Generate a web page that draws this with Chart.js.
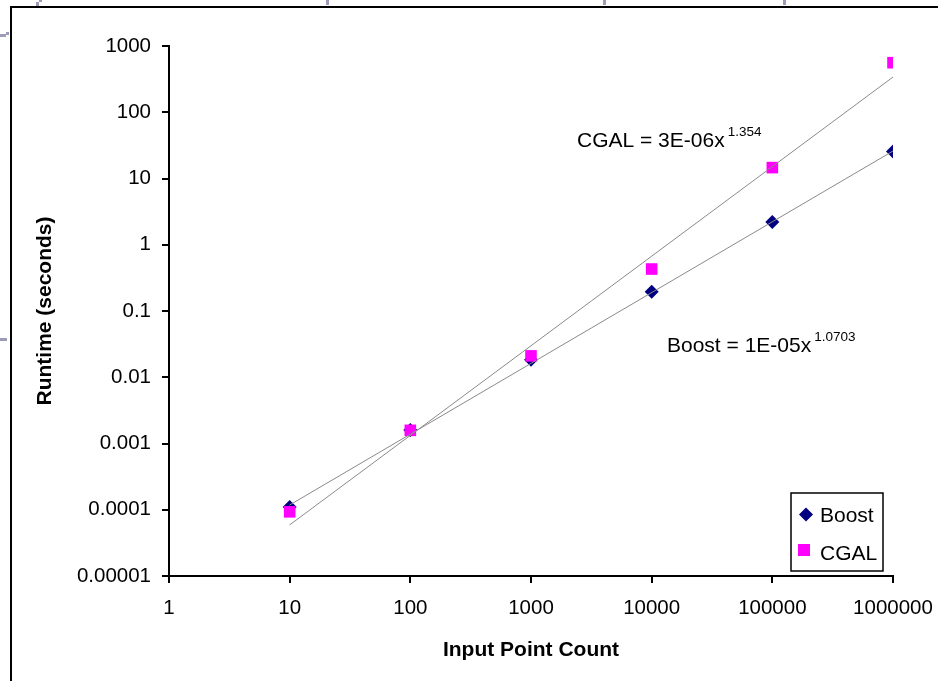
<!DOCTYPE html>
<html>
<head>
<meta charset="utf-8">
<title>Runtime vs Input Point Count</title>
<script src="https://cdn.jsdelivr.net/npm/chart.js@4.4.1/dist/chart.umd.min.js"></script>
<style>
  html, body { margin: 0; padding: 0; background: #fff; }
  #wrap { position: relative; width: 938px; height: 681px; overflow: hidden; }
  #frame { position: absolute; left: 10px; top: 6px; right: -10px; bottom: -10px;
           border-top: 2px solid #000; border-left: 2px solid #000; }
  .mark { position: absolute; background: #9c9cb8; }
  canvas { position: absolute; left: 0; top: 0; }
</style>
</head>
<body>
<div id="wrap">
  <div id="frame"></div>
  <div class="mark" style="left:36px;top:2px;width:3px;height:4px"></div>
  <div class="mark" style="left:39px;top:0px;width:3px;height:2px"></div>
  <div class="mark" style="left:326px;top:0px;width:3px;height:5px"></div>
  <div class="mark" style="left:603px;top:0px;width:3px;height:5px"></div>
  <div class="mark" style="left:783px;top:0px;width:3px;height:5px"></div>
  <div class="mark" style="left:0px;top:34px;width:6px;height:3px"></div>
  <div class="mark" style="left:6px;top:32px;width:3px;height:3px"></div>
  <div class="mark" style="left:0px;top:338px;width:7px;height:3px"></div>
  <canvas id="runtimeChart" width="938" height="681"></canvas>
</div>
<script>
// input sizes and measured runtimes (seconds)
const pointCounts = [10, 100, 1000, 10000, 100000, 1000000];
const boostTimes = [0.00011, 0.0016, 0.0184, 0.195, 2.2, 25.5];
const cgalTimes = [0.000093, 0.00158, 0.021, 0.43, 14.6, 560];

// power trendline ends (x = 10 and x = 1000000)
const trendX = [10, 1000000];
const boostTrend = [0.000118, 26];
const cgalTrend = [0.000059, 340];

const xTickValues = [1, 10, 100, 1000, 10000, 100000, 1000000];
const xTickLabels = ['1', '10', '100', '1000', '10000', '100000', '1000000'];
const yTickValues = [0.00001, 0.0001, 0.001, 0.01, 0.1, 1, 10, 100, 1000];
const yTickLabels = ['0.00001', '0.0001', '0.001', '0.01', '0.1', '1', '10', '100', '1000'];

const boostColor = '#000080';
const cgalColor = '#ff00ff';
const trendColor = '#8a8a8a';
const fontFamily = '"Liberation Sans", Arial, sans-serif';

function toPoints(xs, ys) {
  return xs.map((x, i) => ({ x: x, y: ys[i] }));
}

// equation labels and the legend box
const overlayPlugin = {
  id: 'overlay',
  afterDraw(chart) {
    const ctx = chart.ctx;
    ctx.save();
    ctx.fillStyle = '#000';
    ctx.textBaseline = 'alphabetic';
    ctx.textAlign = 'left';

    function equation(main, sup, x, y) {
      ctx.font = '21px ' + fontFamily;
      ctx.fillText(main, x, y);
      const w = ctx.measureText(main).width;
      ctx.font = '13.5px ' + fontFamily;
      ctx.fillText(sup, x + w + 3, y - 11);
    }
    equation('CGAL = 3E-06x', '1.354', 577, 147);
    equation('Boost = 1E-05x', '1.0703', 667, 352);

    // legend
    ctx.lineWidth = 1.5;
    ctx.strokeStyle = '#000';
    ctx.fillStyle = '#fff';
    ctx.fillRect(791, 493, 92, 78);
    ctx.strokeRect(791, 493, 92, 78);

    ctx.fillStyle = boostColor;
    ctx.beginPath();
    ctx.moveTo(806, 507.5);
    ctx.lineTo(813, 514.5);
    ctx.lineTo(806, 521.5);
    ctx.lineTo(799, 514.5);
    ctx.closePath();
    ctx.fill();

    ctx.fillStyle = cgalColor;
    ctx.fillRect(798, 544, 12, 12);

    ctx.fillStyle = '#000';
    ctx.font = '21px ' + fontFamily;
    ctx.fillText('Boost', 820, 522);
    ctx.fillText('CGAL', 820, 560);
    ctx.restore();
  }
};

const axisLine = {
  grid: { display: true, drawOnChartArea: false, drawTicks: true, tickLength: 7, color: '#000', lineWidth: 2 },
  border: { display: true, color: '#000', width: 2 }
};

const chart = new Chart(document.getElementById('runtimeChart').getContext('2d'), {
  type: 'scatter',
  data: {
    datasets: [
      {
        label: 'Boost trend',
        data: toPoints(trendX, boostTrend),
        showLine: true,
        borderColor: trendColor,
        borderWidth: 1,
        pointRadius: 0,
        order: 0
      },
      {
        label: 'CGAL trend',
        data: toPoints(trendX, cgalTrend),
        showLine: true,
        borderColor: trendColor,
        borderWidth: 1,
        pointRadius: 0,
        order: 0
      },
      {
        label: 'Boost',
        data: toPoints(pointCounts, boostTimes),
        pointStyle: 'rectRot',
        pointRadius: 7,
        backgroundColor: boostColor,
        borderColor: boostColor,
        borderWidth: 0,
        order: 2
      },
      {
        label: 'CGAL',
        data: toPoints(pointCounts, cgalTimes),
        pointStyle: 'rect',
        pointRadius: 8.2,
        backgroundColor: cgalColor,
        borderColor: cgalColor,
        borderWidth: 0,
        order: 1
      }
    ]
  },
  options: {
    responsive: false,
    animation: false,
    devicePixelRatio: 1,
    layout: { padding: { left: 0, top: 46, right: 45, bottom: 0 } },
    plugins: {
      legend: { display: false },
      tooltip: { enabled: false },
      title: { display: false }
    },
    scales: {
      x: {
        type: 'logarithmic',
        min: 1,
        max: 1000000,
        ...axisLine,
        afterBuildTicks(scale) {
          scale.ticks = xTickValues.map(v => ({ value: v }));
        },
        afterFit(scale) {
          scale.height = 105;
          scale.paddingLeft = 0;
          scale.paddingRight = 0;
        },
        ticks: {
          autoSkip: false,
          maxRotation: 0,
          padding: 13,
          color: '#000',
          font: { family: fontFamily, size: 20.5 },
          callback: function (value, index) {
            return xTickLabels[index];
          }
        },
        title: {
          display: true,
          text: 'Input Point Count',
          color: '#000',
          font: { family: fontFamily, size: 21, weight: 'bold' },
          padding: { top: 0, bottom: 18 }
        }
      },
      y: {
        type: 'logarithmic',
        min: 0.00001,
        max: 1000,
        ...axisLine,
        afterBuildTicks(scale) {
          scale.ticks = yTickValues.map(v => ({ value: v }));
        },
        afterFit(scale) {
          scale.width = 169;
          scale.paddingTop = 0;
          scale.paddingBottom = 0;
        },
        ticks: {
          autoSkip: false,
          padding: 11,
          color: '#000',
          font: { family: fontFamily, size: 20.5 },
          callback: function (value, index) {
            return yTickLabels[index];
          }
        },
        title: {
          display: true,
          text: 'Runtime (seconds)',
          color: '#000',
          font: { family: fontFamily, size: 21, weight: 'bold' },
          padding: { top: 33, bottom: 0 }
        }
      }
    }
  },
  plugins: [overlayPlugin]
});
</script>
</body>
</html>
